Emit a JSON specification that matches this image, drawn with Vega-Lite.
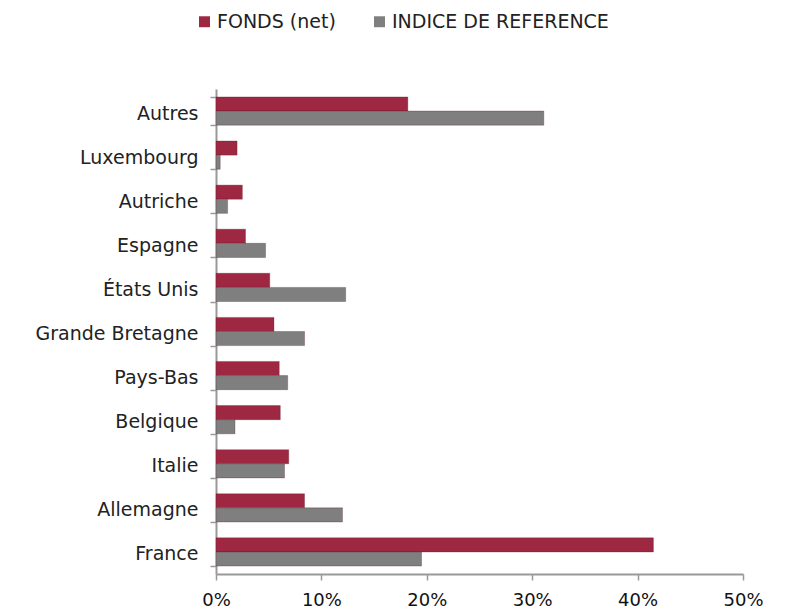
{
  "$schema": "https://vega.github.io/schema/vega-lite/v6.json",
  "width": 527,
  "height": 485,
  "autosize": {"type": "none"},
  "padding": {"left": 216, "top": 89, "right": 46, "bottom": 35},
  "background": "white",
  "data": {"values": [
    {"pays": "Autres", "serie": "FONDS (net)", "v": 18.2},
    {"pays": "Autres", "serie": "INDICE DE REFERENCE", "v": 31.1},
    {"pays": "Luxembourg", "serie": "FONDS (net)", "v": 2.0},
    {"pays": "Luxembourg", "serie": "INDICE DE REFERENCE", "v": 0.4},
    {"pays": "Autriche", "serie": "FONDS (net)", "v": 2.5},
    {"pays": "Autriche", "serie": "INDICE DE REFERENCE", "v": 1.1},
    {"pays": "Espagne", "serie": "FONDS (net)", "v": 2.8},
    {"pays": "Espagne", "serie": "INDICE DE REFERENCE", "v": 4.7},
    {"pays": "États Unis", "serie": "FONDS (net)", "v": 5.1},
    {"pays": "États Unis", "serie": "INDICE DE REFERENCE", "v": 12.3},
    {"pays": "Grande Bretagne", "serie": "FONDS (net)", "v": 5.5},
    {"pays": "Grande Bretagne", "serie": "INDICE DE REFERENCE", "v": 8.4},
    {"pays": "Pays-Bas", "serie": "FONDS (net)", "v": 6.0},
    {"pays": "Pays-Bas", "serie": "INDICE DE REFERENCE", "v": 6.8},
    {"pays": "Belgique", "serie": "FONDS (net)", "v": 6.1},
    {"pays": "Belgique", "serie": "INDICE DE REFERENCE", "v": 1.8},
    {"pays": "Italie", "serie": "FONDS (net)", "v": 6.9},
    {"pays": "Italie", "serie": "INDICE DE REFERENCE", "v": 6.5},
    {"pays": "Allemagne", "serie": "FONDS (net)", "v": 8.4},
    {"pays": "Allemagne", "serie": "INDICE DE REFERENCE", "v": 12.0},
    {"pays": "France", "serie": "FONDS (net)", "v": 41.5},
    {"pays": "France", "serie": "INDICE DE REFERENCE", "v": 19.5}
  ]},
  "mark": {"type": "bar", "stroke": "#5a1424", "strokeWidth": 0.3},
  "encoding": {
    "y": {
      "field": "pays", "type": "nominal",
      "sort": ["Autres", "Luxembourg", "Autriche", "Espagne", "États Unis", "Grande Bretagne", "Pays-Bas", "Belgique", "Italie", "Allemagne", "France"],
      "scale": {"paddingInner": 0.36, "paddingOuter": 0.18},
      "axis": {"title": null, "labelFont": "DejaVu Sans", "labelFontSize": 19, "labelColor": "#222", "labelPadding": 12, "labelOffset": 2, "labelLimit": 0, "domainColor": "#999", "domainWidth": 2, "tickColor": "#999", "tickWidth": 1.5, "tickSize": 6, "tickBand": "extent", "grid": false}
    },
    "yOffset": {"field": "serie", "type": "nominal", "sort": ["FONDS (net)", "INDICE DE REFERENCE"]},
    "x": {
      "field": "v", "type": "quantitative",
      "scale": {"domain": [0, 50], "nice": false},
      "axis": {"title": null, "values": [0, 10, 20, 30, 40, 50], "labelExpr": "datum.value + '%'", "labelFont": "DejaVu Sans", "labelFontSize": 18, "labelColor": "#111", "labelPadding": 11, "domainColor": "#999", "domainWidth": 2, "tickColor": "#999", "tickWidth": 1.5, "tickSize": 6, "grid": false, "labelFlush": false}
    },
    "color": {
      "field": "serie", "type": "nominal",
      "scale": {"domain": ["FONDS (net)", "INDICE DE REFERENCE"], "range": ["#9e2842", "#7f7f7f"]},
      "legend": {"title": null, "orient": "none", "direction": "horizontal", "legendX": -21, "legendY": -77, "symbolType": "square", "symbolSize": 120, "symbolStrokeWidth": 0, "labelFont": "DejaVu Sans", "labelFontSize": 19, "labelColor": "#222", "labelLimit": 0, "columnPadding": 34, "labelOffset": 3}
    }
  },
  "config": {"view": {"stroke": null}}
}
